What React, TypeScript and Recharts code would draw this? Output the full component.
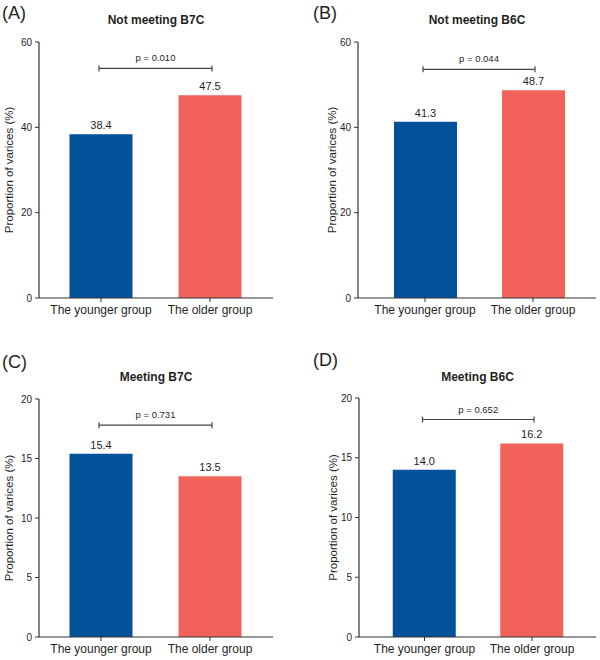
import React from 'react';
import {
  BarChart,
  Bar,
  Cell,
  XAxis,
  YAxis,
  LabelList,
  ReferenceLine,
} from 'recharts';

// values
const groups = ['The younger group', 'The older group'];
const notMeetingB7C = [38.4, 47.5];
const notMeetingB6C = [41.3, 48.7];
const meetingB7C = [15.4, 13.5];
const meetingB6C = [14.0, 16.2];
const pValues = ['0.010', '0.044', '0.731', '0.652'];
const upperTicks = [0, 20, 40, 60];
const lowerTicks = [0, 5, 10, 15, 20];
// height of the significance bracket, in axis units
const bracketLevels = [53.8, 53.6, 17.8, 18.2];

const BLUE = '#02519b';
const RED = '#f0625a';
const INK = '#1f1f1f';
const AXIS = '#333333';
const FONT = '"Liberation Sans", Arial, Helvetica, sans-serif';

const panels = [
  {
    letter: '(A)', title: 'Not meeting B7C', values: notMeetingB7C, ticks: upperTicks,
    x: 0, y: 0, plotLeft: 39, margin: { top: 42, right: 27, bottom: 12, left: 0 },
    pad: { left: 7.5, right: 8.5 }, letterX: 2, letterY: 13, titleY: 20, labelGap: 30,
  },
  {
    letter: '(B)', title: 'Not meeting B6C', values: notMeetingB6C, ticks: upperTicks,
    x: 300, y: 0, plotLeft: 58, margin: { top: 42, right: 4, bottom: 12, left: 0 },
    pad: { left: 13, right: 9 }, letterX: 13, letterY: 13, titleY: 20, labelGap: 26,
  },
  {
    letter: '(C)', title: 'Meeting B7C', values: meetingB7C, ticks: lowerTicks,
    x: 0, y: 330, plotLeft: 39, margin: { top: 69, right: 27, bottom: 3, left: 0 },
    pad: { left: 7.5, right: 8.5 }, letterX: 2, letterY: 32, titleY: 47, labelGap: 30,
  },
  {
    letter: '(D)', title: 'Meeting B6C', values: meetingB6C, ticks: lowerTicks,
    x: 300, y: 330, plotLeft: 59, margin: { top: 68, right: 4, bottom: 3, left: 0 },
    pad: { left: 11.75, right: 10.25 }, letterX: 13, letterY: 30, titleY: 47, labelGap: 26,
  },
];

const Bracket = (p: string) => (props: any) => {
  const { x1, x2, y1 } = props;
  const a = x1 - 2;
  const b = x2 + 2;
  return (
    <g>
      <line x1={a} x2={b} y1={y1} y2={y1} stroke="#444" strokeWidth={1.2} />
      <line x1={a} x2={a} y1={y1 - 3} y2={y1 + 3} stroke="#444" strokeWidth={1.2} />
      <line x1={b} x2={b} y1={y1 - 3} y2={y1 + 3} stroke="#444" strokeWidth={1.2} />
      <text x={(a + b) / 2} y={y1 - 7} textAnchor="middle" fontSize={9.5} fill={INK}>
        {`p = ${p}`}
      </text>
    </g>
  );
};

const yTitle = (gap: number) => (props: any) => {
  const vb = props.viewBox || {};
  const cx = vb.x + vb.width - gap;
  const cy = vb.y + vb.height / 2;
  return (
    <text
      x={cx}
      y={cy}
      transform={`rotate(-90 ${cx} ${cy})`}
      textAnchor="middle"
      dominantBaseline="central"
      fontSize={11.5}
      fill={INK}
    >
      Proportion of varices (%)
    </text>
  );
};

const Panel: React.FC<{ cfg: (typeof panels)[number]; index: number }> = ({ cfg, index }) => {
  const data = groups.map((g, i) => ({ group: g, value: cfg.values[i] }));
  const top = cfg.ticks[cfg.ticks.length - 1];
  const plotCenter = (cfg.plotLeft + 300 - cfg.margin.right) / 2;
  return (
    <div style={{ position: 'absolute', left: cfg.x, top: cfg.y, width: 300, height: 330 }}>
      <div
        style={{
          position: 'absolute', left: cfg.letterX, top: cfg.letterY - 10, fontSize: 18,
          lineHeight: '20px', color: INK,
        }}
      >
        {cfg.letter}
      </div>
      <div
        style={{
          position: 'absolute', left: plotCenter - 100, width: 200, top: cfg.titleY - 8,
          textAlign: 'center', fontSize: 12, fontWeight: 'bold', lineHeight: '16px', color: INK,
        }}
      >
        {cfg.title}
      </div>
      <BarChart width={300} height={330} data={data} margin={cfg.margin}>
        <XAxis
          dataKey="group"
          height={20}
          padding={cfg.pad}
          axisLine={{ stroke: AXIS, strokeWidth: 1.2 }}
          tickLine={{ stroke: AXIS }}
          tickSize={4}
          tickMargin={3}
          tick={{ fontSize: 12, fill: INK }}
          interval={0}
        />
        <XAxis
          xAxisId="top"
          orientation="top"
          height={0}
          tick={false}
          tickLine={false}
          axisLine={{ stroke: AXIS, strokeWidth: 1.2 }}
        />
        <YAxis
          width={cfg.plotLeft}
          domain={[0, top]}
          ticks={cfg.ticks}
          axisLine={{ stroke: AXIS, strokeWidth: 1.2 }}
          tickLine={{ stroke: AXIS }}
          tickSize={4}
          tickMargin={3}
          tick={{ fontSize: 10, fill: INK }}
          label={yTitle(cfg.labelGap)}
        />
        <YAxis
          yAxisId="right"
          orientation="right"
          width={0}
          domain={[0, top]}
          tick={false}
          tickLine={false}
          axisLine={{ stroke: AXIS, strokeWidth: 1.2 }}
        />
        <Bar dataKey="value" barSize={63} isAnimationActive={false}>
          {data.map((d, i) => (
            <Cell key={d.group} fill={i === 0 ? BLUE : RED} />
          ))}
          <LabelList
            dataKey="value"
            position="top"
            offset={5}
            fontSize={11}
            fill={INK}
            formatter={(v: any) => Number(v).toFixed(1)}
          />
        </Bar>
        <ReferenceLine
          segment={[
            { x: groups[0], y: bracketLevels[index] },
            { x: groups[1], y: bracketLevels[index] },
          ]}
          ifOverflow="visible"
          shape={Bracket(pValues[index])}
        />
      </BarChart>
    </div>
  );
};

export default function App() {
  return (
    <div
      style={{
        position: 'absolute', left: 0, top: 0, width: 600, height: 660,
        background: '#fff', fontFamily: FONT,
      }}
    >
      {panels.map((cfg, i) => (
        <Panel key={cfg.letter} cfg={cfg} index={i} />
      ))}
    </div>
  );
}
